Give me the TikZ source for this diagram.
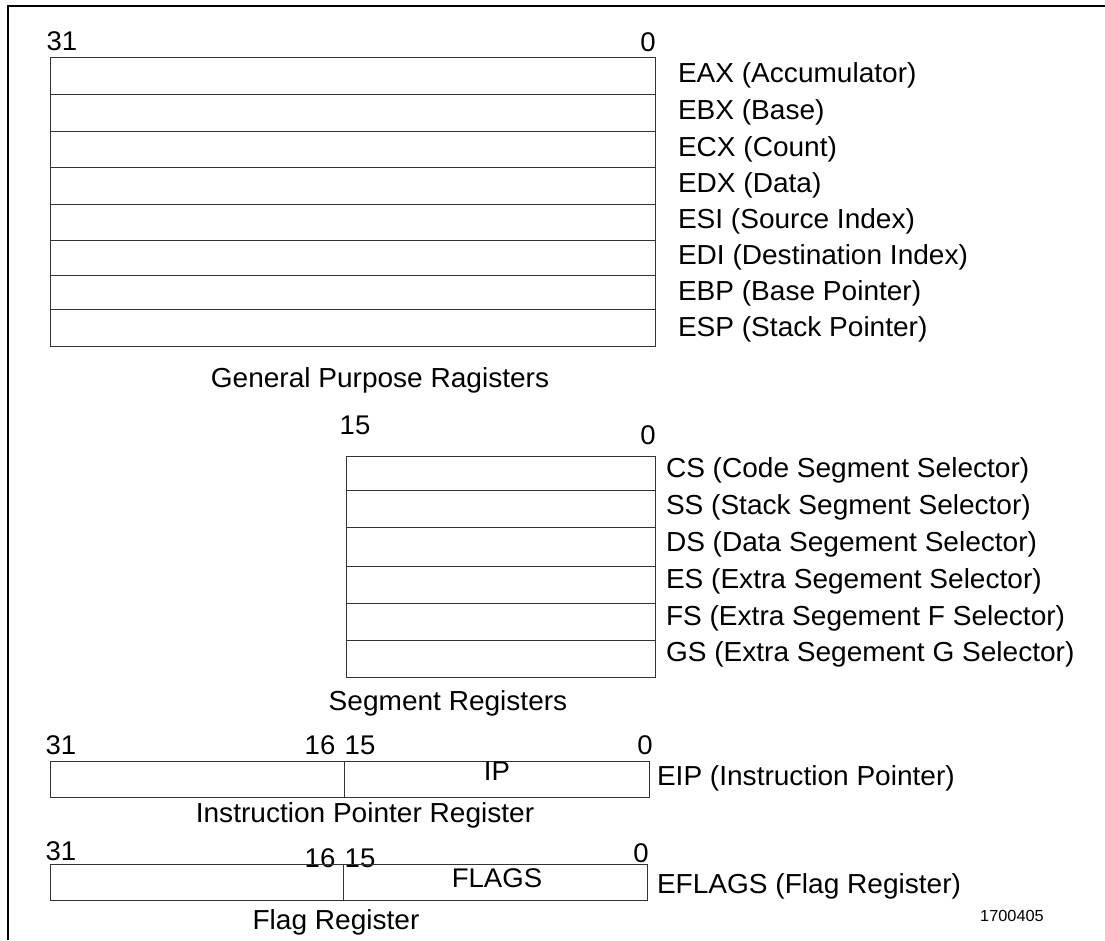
\documentclass[tikz,border=0pt]{standalone}
\usepackage{fontspec}
\setmainfont{Liberation Sans}[FakeStretch=1.02]
\begin{document}
\begin{tikzpicture}[x=1pt,y=-1pt,
  every node/.style={inner sep=0pt, outer sep=0pt},
  reg/.style={draw=black!80, line width=0.9pt, rectangle, anchor=north west, minimum width=605pt},
  seg/.style={draw=black!80, line width=0.9pt, rectangle, anchor=north west, minimum width=309pt},
  half/.style={draw=black!80, line width=0.9pt, rectangle, anchor=north west},
  lbl/.style={anchor=west, font=\fontsize{27.5}{32}\selectfont},
  num/.style={font=\fontsize{27}{32}\selectfont},
  ttl/.style={font=\fontsize{27.5}{32}\selectfont},
  tiny/.style={font=\fontsize{16}{19}\selectfont}]
\useasboundingbox (0,0) rectangle (1105,940);
\draw[line width=1.2pt] (8,940) -- (8,6) -- (1105,6);

% General purpose registers
\node[num] (g31) at (62,41) {31};
\node[num] (g0) at (648,42) {0};
\node[reg, minimum height=37pt] (eax) at (50,57) {};
\node[reg, minimum height=37pt] (ebx) at (50,94) {};
\node[reg, minimum height=36pt] (ecx) at (50,131) {};
\node[reg, minimum height=37pt] (edx) at (50,167) {};
\node[reg, minimum height=36pt] (esi) at (50,204) {};
\node[reg, minimum height=35pt] (edi) at (50,240) {};
\node[reg, minimum height=34pt] (ebp) at (50,275) {};
\node[reg, minimum height=37pt] (esp) at (50,309) {};
\node[lbl] (leax) at (678,75) {EAX (Accumulator)};
\node[lbl] (lebx) at (678,112) {EBX (Base)};
\node[lbl] (lecx) at (678,149) {ECX (Count)};
\node[lbl] (ledx) at (678,185) {EDX (Data)};
\node[lbl] (lesi) at (678,221) {ESI (Source Index)};
\node[lbl] (ledi) at (678,257) {EDI (Destination Index)};
\node[lbl] (lebp) at (678,293) {EBP (Base Pointer)};
\node[lbl] (lesp) at (678,329) {ESP (Stack Pointer)};
\node[ttl] (tgpr) at (380,380) {General Purpose Ragisters};

% Segment registers
\node[num] (s15) at (355,425) {15};
\node[num] (s0) at (648,435) {0};
\node[seg, minimum height=34pt] (cs) at (346,456) {};
\node[seg, minimum height=37pt] (ss) at (346,490) {};
\node[seg, minimum height=39pt] (ds) at (346,527) {};
\node[seg, minimum height=37pt] (es) at (346,566) {};
\node[seg, minimum height=37pt] (fs) at (346,603) {};
\node[seg, minimum height=37pt] (gs) at (346,640) {};
\node[lbl] (lcs) at (666,470) {CS (Code Segment Selector)};
\node[lbl] (lss) at (666,507) {SS (Stack Segment Selector)};
\node[lbl] (lds) at (666,544) {DS (Data Segement Selector)};
\node[lbl] (les) at (666,581) {ES (Extra Segement Selector)};
\node[lbl] (lfs) at (666,618) {FS (Extra Segement F Selector)};
\node[lbl] (lgs) at (666,654) {GS (Extra Segement G Selector)};
\node[ttl] (tseg) at (448,703) {Segment Registers};

% Instruction pointer
\node[num] (i31) at (61,745) {31};
\node[num] (i16) at (320,745) {16};
\node[num] (i15) at (360,745) {15};
\node[num] (i0) at (645,745) {0};
\node[half, minimum width=294pt, minimum height=36pt] (iphi) at (50,761) {};
\node[half, minimum width=305pt, minimum height=36pt] (iplo) at (344,761) {};
\node[num] (ip) at (497,771) {IP};
\node[lbl] (leip) at (657,778) {EIP (Instruction Pointer)};
\node[ttl] (tip) at (365,815) {Instruction Pointer Register};

% Flags
\node[num] (f31) at (61,851) {31};
\node[num] (f16) at (320,858) {16};
\node[num] (f15) at (360,858) {15};
\node[num] (f0) at (641,853) {0};
\node[half, minimum width=293pt, minimum height=36pt] (flhi) at (50,864) {};
\node[half, minimum width=304pt, minimum height=36pt] (fllo) at (343,864) {};
\node[num] (flags) at (497,878) {FLAGS};
\node[lbl] (lefl) at (657,886) {EFLAGS (Flag Register)};
\node[ttl] (tfl) at (336,922) {Flag Register};
\node[tiny] (code) at (1012,916) {1700405};
\end{tikzpicture}
\end{document}
